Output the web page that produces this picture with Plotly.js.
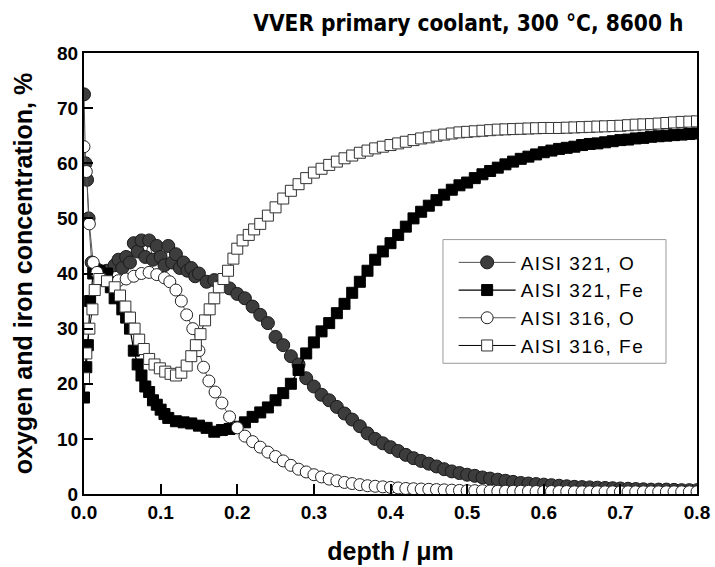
<!DOCTYPE html>
<html>
<head>
<meta charset="utf-8">
<script src="https://cdn.plot.ly/plotly-3.0.1.min.js"></script>
<style>html,body{margin:0;padding:0;background:#fff;}#chart{width:715px;height:567px;}
.legendtext{letter-spacing:1.5px;}</style>
</head>
<body>
<div id="chart"></div>
<script>
// AISI 321, O
const x321O = [0.000,0.002,0.004,0.006,0.010,0.015,0.02,0.03,0.04,0.045,0.05,0.055,0.06,0.065,0.07,0.075,0.08,0.085,0.09,0.095,0.10,0.105,0.11,0.115,0.12,0.125,0.13,0.135,0.14,0.145,0.15,0.16,0.17,0.18,0.19,0.20,0.21,0.22,0.23,0.24,0.25,0.26,0.27,0.28,0.29,0.30,0.31,0.32,0.33,0.34,0.35,0.36,0.37,0.38,0.39,0.40,0.41,0.42,0.43,0.44,0.45,0.46,0.47,0.48,0.49,0.50,0.51,0.52,0.53,0.54,0.55,0.56,0.57,0.58,0.59,0.60,0.61,0.62,0.63,0.64,0.65,0.66,0.67,0.68,0.69,0.70,0.71,0.72,0.73,0.74,0.75,0.76,0.77,0.78,0.79,0.80];
const y321O = [72.5,60,57,50,42,41,40.5,40.5,41.5,42.5,41,43,42,45.5,44,46,43,46,42.5,45,43,41.5,45,42,43.5,41,42,40.5,41,39.5,40,38.5,38.8,38,37.3,36.3,35.5,34,32.5,31,28.5,27,25,23.5,21,19.5,18,17,15.8,14.6,13.5,12.3,11,10,9.2,8.5,7.8,7.1,6.5,6,5.5,5,4.5,4.1,3.8,3.5,3.3,3,2.8,2.6,2.4,2.2,2.0,1.9,1.8,1.7,1.6,1.5,1.4,1.3,1.25,1.2,1.15,1.1,1.05,1.0,0.95,0.9,0.85,0.8,0.8,0.8,0.75,0.7,0.7,0.7];
// AISI 321, Fe
const x321Fe = [0.000,0.003,0.005,0.008,0.012,0.02,0.03,0.035,0.04,0.05,0.055,0.06,0.065,0.07,0.075,0.08,0.085,0.09,0.095,0.10,0.105,0.11,0.12,0.13,0.14,0.15,0.16,0.17,0.18,0.19,0.20,0.21,0.22,0.23,0.24,0.25,0.26,0.27,0.28,0.29,0.30,0.31,0.32,0.33,0.34,0.35,0.36,0.37,0.38,0.39,0.40,0.41,0.42,0.43,0.44,0.45,0.46,0.47,0.48,0.49,0.50,0.51,0.52,0.53,0.54,0.55,0.56,0.57,0.58,0.59,0.60,0.61,0.62,0.63,0.64,0.65,0.66,0.67,0.68,0.69,0.70,0.71,0.72,0.73,0.74,0.75,0.76,0.77,0.78,0.79,0.80];
const y321Fe = [17.5,23,27,35,40,40.5,40,37.5,35.5,33.5,32,30,26,23.5,21.5,19.5,18.5,17,16.2,15.3,14.5,13.8,13.2,13,12.8,12.4,12,11.3,11.6,11.8,12.2,13,14,14.8,15.7,17,18.3,20,22.5,25.5,27.5,29.5,31,32.8,34.5,36.5,38.5,40.5,42.5,44,45.5,47,48.5,50,51.2,52.3,53.3,54.3,55.2,56,56.5,57.3,58,58.6,59.2,59.8,60.3,60.8,61.2,61.6,62,62.3,62.6,62.8,63,63.3,63.5,63.6,63.8,64,64.2,64.3,64.5,64.6,64.8,64.9,65,65.1,65.2,65.3,65.4];
// AISI 316, O
const x316O = [0.000,0.003,0.007,0.012,0.017,0.025,0.035,0.045,0.055,0.065,0.075,0.085,0.095,0.105,0.112,0.12,0.127,0.134,0.142,0.15,0.156,0.163,0.171,0.18,0.19,0.20,0.21,0.22,0.23,0.24,0.25,0.26,0.27,0.28,0.29,0.30,0.31,0.32,0.33,0.34,0.35,0.36,0.37,0.38,0.39,0.40,0.41,0.42,0.43,0.44,0.45,0.46,0.47,0.48,0.49,0.50,0.51,0.52,0.53,0.54,0.55,0.56,0.57,0.58,0.59,0.60,0.61,0.62,0.63,0.64,0.65,0.66,0.67,0.68,0.69,0.70,0.71,0.72,0.73,0.74,0.75,0.76,0.77,0.78,0.79,0.80];
const y316O = [63,58.5,49,42,40.2,38.8,38.5,38.7,39,39.5,40,40.2,39.8,39.2,38.5,37,35,32.5,30,26,23,20.5,18.5,16.5,14,12,10.5,9.5,8.5,7.6,6.8,6,5.2,4.5,4,3.5,3.1,2.7,2.4,2.1,1.9,1.7,1.5,1.4,1.3,1.2,1.1,1.0,0.95,0.9,0.85,0.8,0.75,0.7,0.65,0.6,0.6,0.6,0.55,0.5,0.5,0.5,0.5,0.5,0.45,0.45,0.45,0.45,0.45,0.4,0.4,0.4,0.4,0.4,0.4,0.4,0.4,0.4,0.4,0.4,0.4,0.4,0.4,0.4,0.4,0.4];
// AISI 316, Fe
const x316Fe = [0.000,0.003,0.007,0.011,0.014,0.02,0.03,0.04,0.047,0.054,0.06,0.066,0.072,0.078,0.085,0.092,0.099,0.106,0.113,0.12,0.127,0.134,0.14,0.146,0.152,0.158,0.164,0.17,0.176,0.182,0.188,0.195,0.20,0.207,0.215,0.222,0.23,0.24,0.25,0.26,0.27,0.28,0.29,0.30,0.31,0.32,0.33,0.34,0.35,0.36,0.37,0.38,0.39,0.40,0.41,0.42,0.43,0.44,0.45,0.46,0.47,0.48,0.49,0.50,0.51,0.52,0.53,0.54,0.55,0.56,0.57,0.58,0.59,0.60,0.61,0.62,0.63,0.64,0.65,0.66,0.67,0.68,0.69,0.70,0.71,0.72,0.73,0.74,0.75,0.76,0.77,0.78,0.79,0.80];
const y316Fe = [21,25.5,30,33.5,37,39,38.6,37.5,36,34,32,30,28,26.3,24.5,23.5,22.8,22.2,21.8,21.5,22,23.3,25,27,29,31.5,33.5,35.5,37.5,39,40.5,42.7,44.5,46,47,48,49,50.5,52,53.6,55,56.2,57.3,58.3,59,59.7,60.3,60.9,61.4,61.9,62.3,62.7,63,63.3,63.6,63.9,64.2,64.5,64.7,65,65.2,65.4,65.6,65.7,65.8,65.9,66,66.1,66.15,66.2,66.25,66.3,66.35,66.4,66.4,66.4,66.45,66.5,66.55,66.6,66.65,66.7,66.75,66.8,66.9,67,67.05,67.1,67.2,67.3,67.4,67.5,67.55,67.6];

const seriesNames = ["AISI 321, O","AISI 321, Fe","AISI 316, O","AISI 316, Fe"];
const xTicks = [0.0,0.1,0.2,0.3,0.4,0.5,0.6,0.7,0.8];
const yTicks = [0,10,20,30,40,50,60,70,80];

const narrow = "'Liberation Sans Narrow', 'Arial Narrow', 'DejaVu Sans Condensed', sans-serif";
const sans = "'Liberation Sans', Arial, sans-serif";

const traces = [
  {x:x321O, y:y321O, name:seriesNames[0], mode:'lines+markers',
   line:{color:'#505050', width:1},
   marker:{symbol:'circle', size:13, color:'#3d3d3d', line:{color:'#1a1a1a', width:1}}},
  {x:x321Fe, y:y321Fe, name:seriesNames[1], mode:'lines+markers',
   line:{color:'#000', width:1.2},
   marker:{symbol:'square', size:11, color:'#000', line:{color:'#000', width:1}}},
  {x:x316O, y:y316O, name:seriesNames[2], mode:'lines+markers',
   line:{color:'#555', width:1},
   marker:{symbol:'circle', size:12, color:'#fff', line:{color:'#222', width:1}}},
  {x:x316Fe, y:y316Fe, name:seriesNames[3], mode:'lines+markers',
   line:{color:'#000', width:1},
   marker:{symbol:'square', size:11, color:'#fff', line:{color:'#333', width:1}}}
];

const layout = {
  width:715, height:567,
  margin:{l:84, r:18, t:53, b:73},
  paper_bgcolor:'#fff', plot_bgcolor:'#fff',
  showlegend:true,
  title:{text:'VVER primary coolant, 300 °C, 8600 h', font:{family:narrow, size:22.5, color:'#000', weight:'bold'},
         xref:'paper', x:0.627, xanchor:'center', yref:'container', y:0.96, yanchor:'middle'},
  xaxis:{range:[0,0.8], tickvals:xTicks, ticktext:xTicks.map(v=>v.toFixed(1)),
         ticks:'inside', ticklen:10, tickwidth:2, tickcolor:'#000',
         showline:true, linewidth:2, linecolor:'#000', mirror:true,
         showgrid:false, zeroline:false,
         tickfont:{family:sans, size:19, color:'#000', weight:'bold'},
         title:{text:'depth / μm', font:{family:sans, size:25, color:'#000', weight:'bold'}, standoff:21}},
  yaxis:{range:[0,80], tickvals:yTicks,
         ticks:'inside', ticklen:9, tickwidth:2, tickcolor:'#000',
         showline:true, linewidth:2, linecolor:'#000', mirror:true,
         showgrid:false, zeroline:false,
         tickfont:{family:sans, size:19, color:'#000', weight:'bold'},
         title:{text:'oxygen and iron concentration, %', font:{family:sans, size:25, color:'#000', weight:'bold'}, standoff:17}},
  shapes:[{type:'rect', xref:'paper', yref:'paper', x0:0.5856, x1:0.9494, y0:0.2964, y1:0.5769,
           line:{color:'#999', width:1}, fillcolor:'rgba(255,255,255,0)', layer:'above'}],
  legend:{x:0.603, y:0.568, xanchor:'left', yanchor:'top', bgcolor:'rgba(255,255,255,0)',
          borderwidth:0, itemwidth:57,
          font:{family:sans, size:19, color:'#000'}, tracegroupgap:0}
};

Plotly.newPlot('chart', traces, layout, {displayModeBar:false, staticPlot:true});
</script>
</body>
</html>
